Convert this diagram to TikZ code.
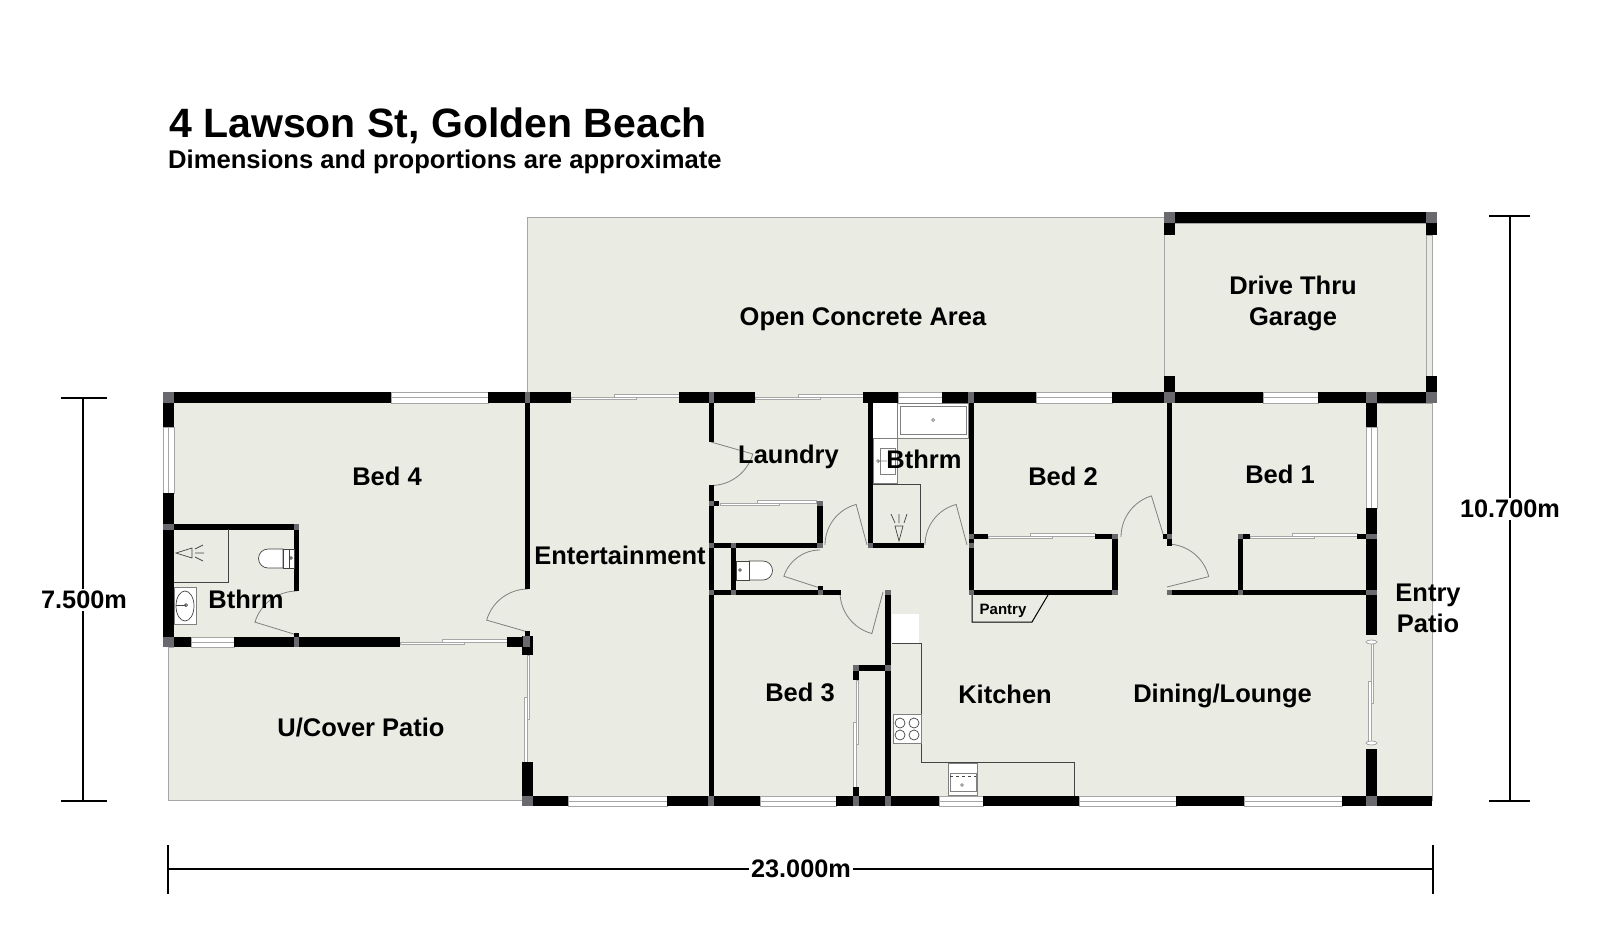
\documentclass[tikz,border=0pt]{standalone}
\usepackage{fontspec}
\setmainfont{Liberation Sans}
\definecolor{floorcol}{HTML}{EAEBE3}
\definecolor{edgecol}{HTML}{A6A6A6}
\definecolor{postcol}{HTML}{6A6A6E}
\definecolor{fixcol}{HTML}{444444}
\tikzset{
    roomtext/.style={anchor=base,inner sep=0pt,font=\bfseries\fontsize{25.5}{30}\selectfont},
    smalltext/.style={anchor=base,inner sep=0pt,font=\bfseries\fontsize{15}{18}\selectfont},
    dimtext/.style={inner sep=2pt,fill=white,font=\bfseries\fontsize{25.3}{30}\selectfont},
    floorarea/.style={fill=floorcol,draw=edgecol,line width=1pt},
    wallblock/.style={fill=black},
    postblock/.style={fill=postcol},
    pane/.style={fill=white,draw=edgecol,line width=1pt},
    slidepanel/.style={fill=white,draw=edgecol,line width=0.8pt},
    doorleaf/.style={draw=gray,line width=0.8pt},
    fixture/.style={draw=fixcol,line width=0.7pt},
    partition/.style={draw=fixcol,line width=1pt},
    dimline/.style={draw=black,line width=1.6pt}
}
\begin{document}
\begin{tikzpicture}[x=1pt,y=-1pt]
    \useasboundingbox (0,0) rectangle (1600,940);
    \fill[white] (0,0) rectangle (1600,940);

    % Title
    \node[anchor=base west,inner sep=0pt,font=\bfseries\fontsize{41}{48}\selectfont] (titlemain) at (169,137) {4 Lawson St, Golden Beach};
    \node[anchor=base west,inner sep=0pt,font=\bfseries\fontsize{25.6}{30}\selectfont] (titlesub) at (168,168) {Dimensions and proportions are approximate};

    % Floor areas
    \draw[floorarea] (527,217) rectangle (1164,392);
    \draw[floorarea] (1426,235) rectangle (1432,392);
    \draw[floorarea] (1164,223) rectangle (1426,392);
    \draw[floorarea] (168,647) rectangle (525,800);
    \fill[floorcol] (174,392) rectangle (1377,796);
    \draw[floorarea] (1377,403) -- (1432,403) -- (1432,800) -- (1377,800);

    % White fixtures behind the walls
    \fill[white] (873,403) rectangle (897,438);
    \fill[white] (892,614) rectangle (919,643);

    % Windows, horizontal then vertical
    \foreach \xa/\xb/\ya/\yb in {391/488/392/403,191/234/637/647,898/942/392/403,1036/1112/392/403,
        1263/1318/392/403,568/667/796/806,760/836/796/806,939/983/796/806,1079/1176/796/806,1244/1342/796/806}{
        \draw[pane] (\xa,\ya) rectangle (\xb,\yb);
        \draw[edgecol,line width=1pt] (\xa,{(\ya+\yb)/2}) -- (\xb,{(\ya+\yb)/2});
    }
    \foreach \xa/\xb/\ya/\yb in {163/174/427/493,1366/1377/427/508}{
        \draw[pane] (\xa,\ya) rectangle (\xb,\yb);
        \draw[edgecol,line width=1pt] ({(\xa+\xb)/2},\ya) -- ({(\xa+\xb)/2},\yb);
    }

    % Sliding doors, horizontal then vertical
    \foreach \xa/\xb/\ym in {400/507/642,571/679/397,755/863/397,720/816/503,988/1095/536,1250/1357/536}{
        \draw[slidepanel] (\xa,\ym) rectangle ({(\xa+\xb)/2+11},{\ym+2.5});
        \draw[slidepanel] ({(\xa+\xb)/2-11},{\ym-2.5}) rectangle (\xb,\ym);
    }
    \foreach \xm/\ya/\yb in {527/655/762,856/680/787,1371/642/743}{
        \draw[slidepanel] (\xm,\ya) rectangle ({\xm+2.5},{(\ya+\yb)/2+11});
        \draw[slidepanel] ({\xm-2.5},{(\ya+\yb)/2-11}) rectangle (\xm,\yb);
    }
    \draw[slidepanel] (1371.5,642) ellipse (5.5 and 2);
    \draw[slidepanel] (1371.5,743) ellipse (5.5 and 2);

    % Doors
    \foreach \hx/\hy/\rad/\aopen/\ashut in {528/632/43/196/270,297/635/44/197/270,711/442/43.5/16/90,
        820/588/38/198/270,883/592/43/105/180,867/545/42/255/180,967/545/42/255/180,
        1164/537/43/253/180,1167/587/43/346/270}{
        \draw[doorleaf] (\hx,\hy) -- ++(\aopen:\rad) arc (\aopen:\ashut:\rad);
    }

    % Walls
    \foreach \xa/\xb/\ya/\yb in {
        163/391/392/403,488/571/392/403,679/755/392/403,863/898/392/403,942/1036/392/403,1112/1263/392/403,1318/1437/392/403,
        163/174/403/427,163/174/493/647,174/191/637/647,234/400/637/647,507/523/637/647,522/533/636/655,525/530/631/637,
        174/299/524/529.5,294/299/524/591,294/299/633/637,
        525/530/403/589,709/714/403/442,709/714/485/796,
        714/719/501/506,817/823/501/548,714/823/543/548,731/736/548/595,714/841/590/595,818/823/586/590,
        868/873/403/548,868/924/543/548,885/891/590/796,853/886/665/671,853/859/671/680,853/859/787/796,
        969/974/403/595,974/988/534/539,1095/1118/534/539,1112/1118/539/595,969/1118/590/595,
        1167/1172/403/546,1163/1167/534/539,1167/1366/590/595,1238/1243/534/595,1243/1250/534/539,1357/1366/534/539,
        1366/1377/403/427,1366/1377/508/635,1366/1377/749/796,522/533/762/796,
        533/568/796/806,667/760/796/806,836/939/796/806,983/1079/796/806,1176/1244/796/806,1342/1432/796/806,
        1164/1437/212/223,1164/1175/223/235,1426/1437/223/235,1164/1175/376/392,1426/1437/376/392}{
        \fill[wallblock] (\xa,\ya) rectangle (\xb,\yb);
    }

    % Wall junctions
    \foreach \xa/\xb/\ya/\yb in {
        163/174/392/403,163/174/524/529.5,163/174/637/647,525/530/392/403,294/299/524/529.5,294/299/637/647,523/530/636/647,
        709/714/392/403,968/974/392/403,1164/1175/392/403,1366/1377/392/403,1426/1437/392/403,
        1164/1175/212/223,1426/1437/212/223,709/714/501/506,817/823/501/506,709/714/543/548,731/736/543/548,817/823/543/548,
        709/714/590/595,731/736/590/595,818/823/590/595,885/891/590/595,868/873/543/548,
        969/974/534/539,969/974/543/548,969/974/590/595,1112/1118/534/539,1112/1118/590/595,1167/1172/534/539,1167/1172/590/595,
        1238/1243/534/539,1238/1243/590/595,1366/1377/534/539,1366/1377/590/595,
        853/859/665/671,885/891/665/671,522/533/796/806,708/714/796/806,853/859/796/806,885/891/796/806,1366/1377/796/806}{
        \fill[postblock] (\xa,\ya) rectangle (\xb,\yb);
    }

    % Bed 4 ensuite
    \draw[partition] (228,529) -- (228,582) -- (174,582);
    \draw[fixture] (176,553) -- (192,548) -- (192,558) -- cycle;
    \draw[fixture] (195,549) -- (203,545) (195,553) -- (204,553) (195,557) -- (203,561);
    \draw[fixture,fill=white] (283,549) -- (268,549) arc (270:90:9.5) -- (283,568) -- cycle;
    \draw[fixture,fill=white] (283,549) rectangle (294,568);
    \draw[fixture] (289,549) -- (289,568);
    \draw[fixture] (291,558) circle (1.3);
    \draw[fixture,draw=gray,fill=white] (174,587) rectangle (196,624);
    \draw[fixture,fill=white] (185,606) ellipse (9 and 15);
    \draw[fixture] (176,605) -- (186,605);
    \draw[fixture] (186,605) circle (1.5);

    % WC off the hall
    \draw[fixture,fill=white] (749,561) -- (763,561) arc (-90:90:9.5) -- (749,580) -- cycle;
    \draw[fixture,fill=white] (736,561) rectangle (749,580);
    \draw[fixture] (740,570) circle (1.3);

    % Main bathroom
    \draw[fixture,draw=gray,fill=white] (897,403) rectangle (968,438);
    \draw[fixture,draw=gray] (900,406) rectangle (966,434);
    \draw[fixture,draw=gray] (933,420) circle (1.5);
    \draw[fixture,draw=gray,fill=white] (873,438) rectangle (897,483);
    \draw[fixture,draw=gray] (880,448) rectangle (895,474);
    \draw[fixture,draw=gray] (878,461) circle (1.5) -- (887,461);
    \draw[partition] (873,484) -- (920,484) -- (920,543);
    \draw[fixture] (899,541) -- (895,526) -- (903,526) -- cycle;
    \draw[fixture] (891,514) -- (895,523) (899,514) -- (899,523) (907,514) -- (904,523);

    % Kitchen
    \draw[partition] (892,643) -- (921,643) -- (921,762) -- (1074,762) -- (1074,796);
    \draw[fixture,draw=gray,fill=white] (893,714) rectangle (921,743);
    \foreach \cx/\cy in {900/723,914/723,900/735,914/735}{
        \draw[fixture] (\cx,\cy) circle (5);
    }
    \draw[fixture,draw=gray,fill=white] (948,763) rectangle (977,795);
    \draw[fixture,draw=gray] (950,773) rectangle (976,791);
    \draw[fixture,dashed] (950,776) -- (976,776);
    \draw[fixture,draw=gray] (962,785) circle (1.3);

    % Pantry
    \draw[black,line width=1pt] (972,595) -- (972,622) -- (1032,622) -- (1048,595);
    \node[smalltext] (pantrytext) at (1003,614) {Pantry};

    % Room names
    \node[roomtext] (openarea) at (863,325) {Open Concrete Area};
    \node[roomtext] (drivethru) at (1293,294) {Drive Thru};
    \node[roomtext] (garage) at (1293,325) {Garage};
    \node[roomtext] (bedfour) at (387,485) {Bed 4};
    \node[roomtext] (bathfour) at (246,608) {Bthrm};
    \node[roomtext] (entertain) at (620,564) {Entertainment};
    \node[roomtext] (laundry) at (788.5,463) {Laundry};
    \node[roomtext] (bathmain) at (924,468) {Bthrm};
    \node[roomtext] (bedtwo) at (1063,485) {Bed 2};
    \node[roomtext] (bedone) at (1280,483) {Bed 1};
    \node[roomtext] (entry) at (1428,601) {Entry};
    \node[roomtext] (patio) at (1428,632) {Patio};
    \node[roomtext] (bedthree) at (800,701) {Bed 3};
    \node[roomtext] (kitchen) at (1005,703) {Kitchen};
    \node[roomtext] (dining) at (1222.5,702) {Dining/Lounge};
    \node[roomtext] (ucover) at (361,736) {U/Cover Patio};

    % Dimension lines
    \coordinate (lefttop) at (83,398);
    \coordinate (leftbot) at (83,801);
    \coordinate (righttop) at (1510,216);
    \coordinate (rightbot) at (1510,801);
    \coordinate (botleft) at (168,869);
    \coordinate (botright) at (1433,869);
    \draw[dimline] (lefttop) -- (leftbot);
    \draw[dimline] (righttop) -- (rightbot);
    \draw[dimline] (botleft) -- (botright);
    \draw[dimline] (61,398) -- (107,398);
    \draw[dimline] (61,801) -- (107,801);
    \draw[dimline] (1489,216) -- (1530,216);
    \draw[dimline] (1489,801) -- (1530,801);
    \draw[dimline] (168,845) -- (168,894);
    \draw[dimline] (1433,845) -- (1433,894);
    \node[dimtext] (dimleft) at (84,600) {7.500m};
    \node[dimtext] (dimright) at (1510,509) {10.700m};
    \node[dimtext] (dimbot) at (801,869) {23.000m};
\end{tikzpicture}
\end{document}
